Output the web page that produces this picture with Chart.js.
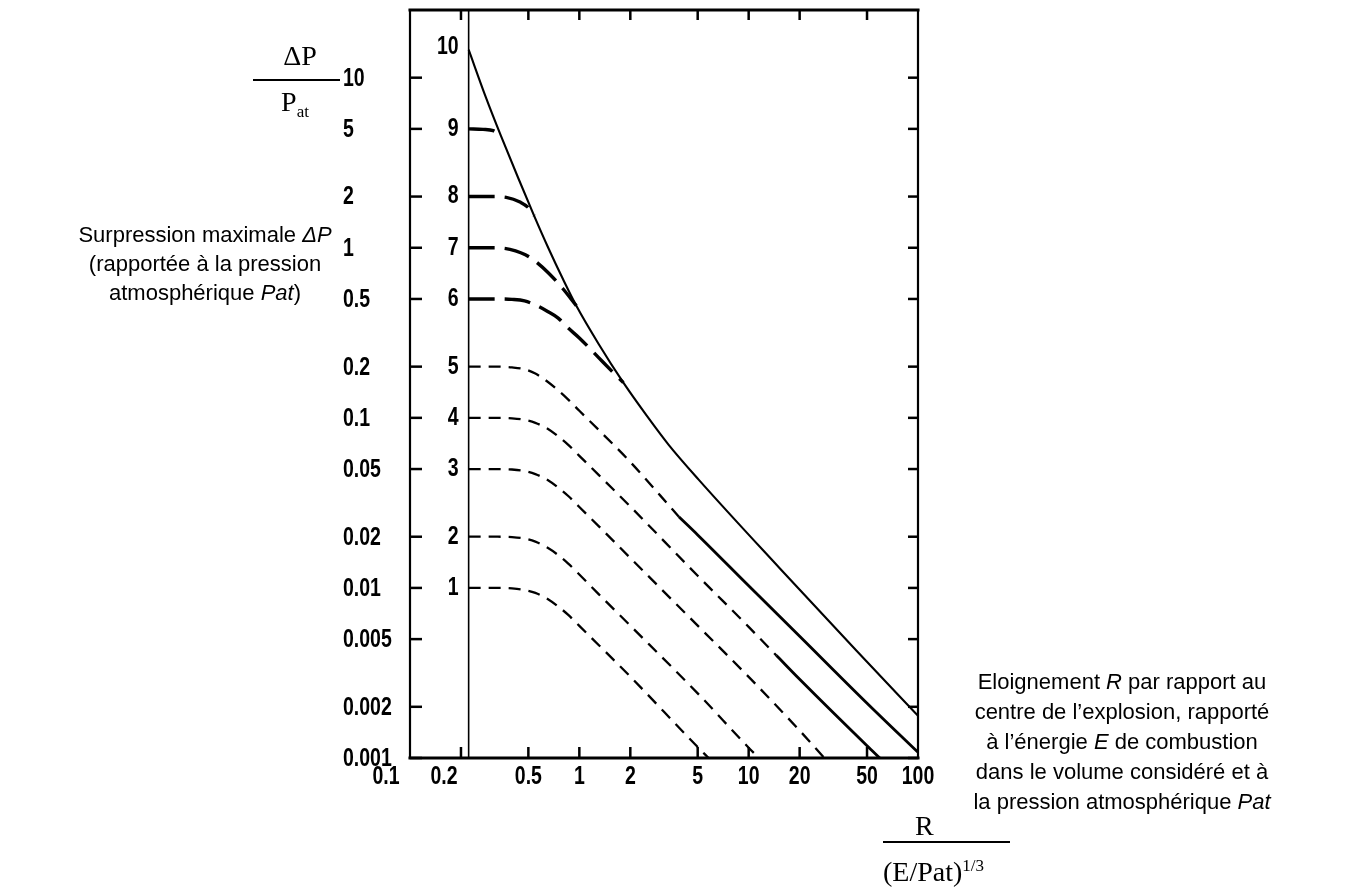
<!DOCTYPE html>
<html>
<head>
<meta charset="utf-8">
<script src="https://cdn.jsdelivr.net/npm/chart.js@4.4.0/dist/chart.umd.min.js"></script>
<style>
body { margin: 0; background: #fff; width: 1352px; height: 889px; overflow: hidden; position: relative; }
#chart { position: absolute; left: 0; top: 0; }
.txt { position: absolute; color: #000; font-family: 'Liberation Sans', Arial, sans-serif; font-size: 22px; text-align: center; white-space: nowrap; }
.serif { position: absolute; color: #000; font-family: 'Liberation Serif', 'Times New Roman', serif; font-size: 28px; line-height: 28px; text-align: center; white-space: nowrap; }
.bar { position: absolute; height: 2px; background: #000; }
.sm { font-size: 17px; position: relative; }
</style>
</head>
<body>
<canvas id="chart" width="1352" height="889"></canvas>

<div class="txt" style="left:70px;top:220px;width:270px;line-height:29px">Surpression maximale <i>ΔP</i><br>(rapportée à la pression<br>atmosphérique <i>Pat</i>)</div>

<div class="serif" style="left:253px;top:42px;width:94px">ΔP</div>
<div class="bar" style="left:253px;top:79px;width:87px"></div>
<div class="serif" style="left:253px;top:88px;width:84px">P<span class="sm" style="top:6px">at</span></div>

<div class="txt" style="left:960px;top:667px;width:324px;line-height:30px">Eloignement <i>R</i> par rapport au<br>centre de l’explosion, rapporté<br>à l’énergie <i>E</i> de combustion<br>dans le volume considéré et à<br>la pression atmosphérique <i>Pat</i></div>

<div class="serif" style="left:915px;top:812px">R</div>
<div class="bar" style="left:883px;top:841px;width:127px"></div>
<div class="serif" style="left:883px;top:858px">(E/Pat)<span class="sm" style="top:-10px">1/3</span></div>

<script>
// axis ticks
const xTicks = [0.1, 0.2, 0.5, 1, 2, 5, 10, 20, 50, 100]
const xTickLabels = ['0.1', '0.2', '0.5', '1', '2', '5', '10', '20', '50', '100']
const yTicks = [0.001, 0.002, 0.005, 0.01, 0.02, 0.05, 0.1, 0.2, 0.5, 1, 2, 5, 10]
const yTickLabels = ['0.001', '0.002', '0.005', '0.01', '0.02', '0.05', '0.1', '0.2', '0.5', '1', '2', '5', '10']

// curves: R (scaled distance) and dP/Pat
const r1 = [0.222, 0.33, 0.40, 0.475, 0.55, 0.65, 0.75, 0.86, 1.0, 1.3, 2, 5, 5.8]
const p1 = [0.01, 0.01, 0.00993, 0.00973, 0.00935, 0.00862, 0.00778, 0.00694, 0.00598, 0.00462, 0.00301, 0.00116, 0.001]

const r2 = [0.222, 0.33, 0.40, 0.475, 0.55, 0.65, 0.75, 0.86, 1.0, 1.3, 2, 5, 10, 11.5]
const p2 = [0.02, 0.02, 0.0199, 0.0195, 0.0187, 0.0172, 0.0156, 0.0139, 0.012, 0.0092, 0.006, 0.0024, 0.00115, 0.001]

const r3 = [0.222, 0.33, 0.40, 0.475, 0.55, 0.65, 0.75, 0.86, 1.0, 1.3, 2, 5, 10, 20, 28]
const p3 = [0.05, 0.05, 0.0497, 0.0487, 0.0467, 0.0431, 0.0389, 0.0347, 0.0299, 0.0231, 0.015, 0.006, 0.003, 0.00145, 0.001]

const r4 = [0.222, 0.33, 0.40, 0.475, 0.55, 0.65, 0.75, 0.86, 1.0, 1.3, 2, 5, 10, 14.6]
const p4 = [0.1, 0.1, 0.0993, 0.0973, 0.0935, 0.0862, 0.0778, 0.0694, 0.0598, 0.0462, 0.0301, 0.0118, 0.0059, 0.004]
const r4tail = [14.6, 20, 50, 59.5]
const p4tail = [0.004, 0.0029, 0.00118, 0.001]

const r5 = [0.222, 0.33, 0.40, 0.475, 0.55, 0.65, 0.75, 0.86, 1.0, 1.3, 2, 3, 3.87]
const p5 = [0.2, 0.2, 0.198, 0.193, 0.182, 0.163, 0.145, 0.128, 0.11, 0.085, 0.055, 0.035, 0.0262]
const r5tail = [3.87, 5, 10, 20, 50, 100]
const p5tail = [0.0262, 0.0205, 0.0103, 0.0052, 0.0021, 0.00108]

const r6 = [0.222, 0.33, 0.40, 0.475, 0.55, 0.65, 0.75, 0.86, 1.0, 1.3, 1.55, 1.82]
const p6 = [0.5, 0.5, 0.497, 0.487, 0.461, 0.422, 0.386, 0.337, 0.295, 0.226, 0.189, 0.161]

const r7 = [0.222, 0.3, 0.36, 0.42, 0.48, 0.535, 0.655, 0.8, 0.96]
const p7 = [1.0, 1.0, 0.993, 0.96, 0.91, 0.85, 0.713, 0.574, 0.456]

const r8 = [0.222, 0.31, 0.37, 0.45, 0.5, 0.541]
const p8 = [2.0, 2.0, 1.98, 1.85, 1.72, 1.54]

const r9 = [0.222, 0.27, 0.31, 0.344]
const p9 = [5.0, 4.97, 4.88, 4.56]

const r10 = [0.222, 0.281, 0.344, 0.435, 0.541, 0.655, 0.804, 0.96, 1.3, 1.82, 2.5, 3.37, 5.08, 15.2, 43.5, 100]
const p10 = [14.6, 7.63, 4.56, 2.58, 1.54, 1.0, 0.648, 0.456, 0.272, 0.161, 0.103, 0.0694, 0.0432, 0.0131, 0.00426, 0.00177]

const curveLabels = ['1', '2', '3', '4', '5', '6', '7', '8', '9', '10']
const curveStarts = [p1[0], p2[0], p3[0], p4[0], p5[0], p6[0], p7[0], p8[0], p9[0], p10[0]]

//styles: short dashes, long dashes, solid
function line(r, p, kind) {
    let ds = {
        data: r.map((v, i) => ({x: v, y: p[i]})),
        showLine: true,
        pointRadius: 0,
        borderColor: '#000',
        backgroundColor: '#000',
        fill: false,
        cubicInterpolationMode: 'monotone',
        borderCapStyle: 'butt',
        borderWidth: 2.1,
        borderDash: []
    }
    if (kind == 'short') { ds.borderDash = [12, 8]; ds.borderWidth = 2.3 }
    if (kind == 'long') { ds.borderDash = [26, 10]; ds.borderWidth = 3.4 }
    if (kind == 'tail') { ds.borderWidth = 2.8 }
    return ds
}

//narrow bold digits like the stencil lettering of the scan
function narrowText(ctx, s, x, y, align) {
    ctx.save()
    ctx.translate(x, y)
    ctx.scale(0.78, 1)
    ctx.textAlign = align
    ctx.fillText(s, 0, 0)
    ctx.restore()
}

let frame = {
    id: 'frame',
    afterDatasetsDraw(chart) {
        const ctx = chart.ctx
        const a = chart.chartArea
        const x = chart.scales.x
        const y = chart.scales.y
        const seg = (x1, y1, x2, y2) => { ctx.beginPath(); ctx.moveTo(x1, y1); ctx.lineTo(x2, y2); ctx.stroke() }
        ctx.save()
        ctx.strokeStyle = '#000'
        ctx.fillStyle = '#000'
        ctx.lineCap = 'square'

        //box
        ctx.lineWidth = 3
        seg(a.left, a.top, a.right, a.top)
        seg(a.left, a.bottom, a.right, a.bottom)
        ctx.lineWidth = 2.2
        seg(a.left, a.top, a.left, a.bottom)
        seg(a.right, a.top, a.right, a.bottom)

        //inward ticks
        ctx.lineCap = 'butt'
        ctx.lineWidth = 2.5
        yTicks.forEach(v => {
            const py = y.getPixelForValue(v)
            seg(a.left, py, a.left + 12, py)
            seg(a.right - 10, py, a.right, py)
        })
        xTicks.slice(1, -1).forEach(v => {
            const px = x.getPixelForValue(v)
            seg(px, a.bottom, px, a.bottom - 11)
            seg(px, a.top, px, a.top + 10)
        })

        //start line of the curves
        const sx = x.getPixelForValue(r1[0])
        ctx.lineWidth = 1.6
        seg(sx, a.top, sx, a.bottom)

        ctx.font = 'bold 25px "Liberation Sans", Arial, sans-serif'

        //y labels, left aligned
        ctx.textBaseline = 'middle'
        yTicks.forEach((v, i) => narrowText(ctx, yTickLabels[i], 343, y.getPixelForValue(v) + 1, 'left'))

        //x labels (the first two sit left of their ticks)
        const nudge = [-24, -17]
        ctx.textBaseline = 'top'
        xTicks.forEach((v, i) => {
            narrowText(ctx, xTickLabels[i], x.getPixelForValue(v) + (nudge[i] || 0), a.bottom + 7, 'center')
        })

        //curve numbers next to the start line
        ctx.textBaseline = 'middle'
        curveStarts.forEach((v, i) => {
            narrowText(ctx, curveLabels[i], sx - 10, y.getPixelForValue(v) - (i == 9 ? 3 : 0), 'right')
        })
        ctx.restore()
    }
}

let chart = new Chart(document.getElementById('chart').getContext('2d'), {
    type: 'scatter',
    data: {
        datasets: [
            line(r1, p1, 'short'),
            line(r2, p2, 'short'),
            line(r3, p3, 'short'),
            line(r4, p4, 'short'),
            line(r4tail, p4tail, 'tail'),
            line(r5, p5, 'short'),
            line(r5tail, p5tail, 'tail'),
            line(r6, p6, 'long'),
            line(r7, p7, 'long'),
            line(r8, p8, 'long'),
            line(r9, p9, 'long'),
            line(r10, p10, 'solid')
        ]
    },
    options: {
        responsive: false,
        animation: false,
        events: [],
        layout: { padding: { left: 343, right: 434, top: 10, bottom: 91 } },
        plugins: { legend: { display: false }, tooltip: { enabled: false } },
        scales: {
            x: {
                type: 'logarithmic',
                min: 0.1,
                max: 100,
                grid: { display: false },
                border: { display: false },
                ticks: { display: false },
                afterBuildTicks: s => { s.ticks = xTicks.map(v => ({value: v})) },
                afterFit: s => { s.height = 40; s.paddingLeft = 0; s.paddingRight = 0 }
            },
            y: {
                type: 'logarithmic',
                min: 0.001,
                max: 25,
                grid: { display: false, drawTicks: false },
                border: { display: false },
                ticks: { display: false },
                afterBuildTicks: s => { s.ticks = yTicks.map(v => ({value: v})) },
                afterFit: s => { s.width = 67; s.paddingTop = 0; s.paddingBottom = 0 }
            }
        }
    },
    plugins: [frame]
})
</script>
</body>
</html>
